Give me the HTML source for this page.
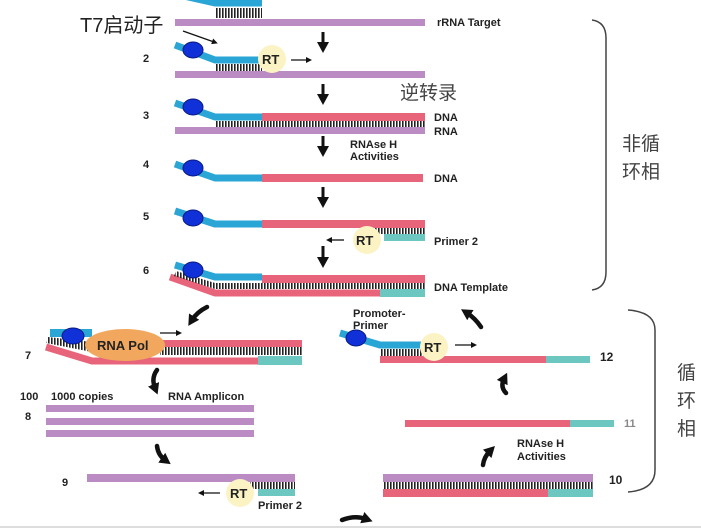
<!DOCTYPE html>
<html><head><meta charset="utf-8"><style>
html,body{margin:0;padding:0;background:#fff;}
svg{display:block;}
text{font-family:"Liberation Sans",Arial,sans-serif;font-weight:bold;fill:#222;}
.cn{font-family:"Liberation Sans","Noto Sans CJK SC",sans-serif;font-weight:normal;fill:#444;}
</style></head><body>
<svg width="701" height="529" viewBox="0 0 701 529" xmlns="http://www.w3.org/2000/svg">
<defs>
<pattern id="tk" width="3" height="10" patternUnits="userSpaceOnUse"><rect x="0" y="0" width="1.6" height="10" fill="#222"/></pattern>
<marker id="ah" markerUnits="userSpaceOnUse" markerWidth="12" markerHeight="12" refX="4" refY="6" orient="auto"><path d="M0,0 L11,6 L0,12 z" fill="#111"/></marker>
<marker id="bh" markerUnits="userSpaceOnUse" markerWidth="6" markerHeight="6" refX="2" refY="3" orient="auto"><path d="M0,0 L6,3 L0,6 z" fill="#111"/></marker>
</defs>

<!-- Row 1 -->
<path d="M175,-6 L215,3 L262,3" fill="none" stroke="#2aa6d6" stroke-width="7" stroke-linejoin="round"/>
<rect x="215" y="8" width="47" height="10" fill="url(#tk)"/>
<rect x="175" y="19" width="250" height="7" fill="#bb8cc4"/>
<text x="437" y="26" font-size="11">rRNA Target</text>
<text x="80" y="32" font-size="20" class="cn" style="fill:#222">T7启动子</text>
<line x1="183" y1="31" x2="214" y2="42" stroke="#111" stroke-width="1.3" marker-end="url(#bh)"/>

<!-- Row 2 -->
<text x="143" y="62" font-size="11">2</text>
<path d="M175,45 L215,60 L262,60" fill="none" stroke="#2aa6d6" stroke-width="7" stroke-linejoin="round"/>
<ellipse cx="193" cy="50" rx="10" ry="8" fill="#1030d8" stroke="#0a1a80"/>
<rect x="215" y="64" width="47" height="7" fill="url(#tk)"/>
<rect x="175" y="71" width="250" height="7" fill="#bb8cc4"/>
<circle cx="272" cy="59" r="14" fill="#fbf3c4"/>
<text x="262" y="64" font-size="13">RT</text>
<line x1="291" y1="60" x2="308" y2="60" stroke="#111" stroke-width="1.3" marker-end="url(#bh)"/>

<!-- down arrows -->
<g stroke="#111" stroke-width="3" marker-end="url(#ah)">
<line x1="323" y1="32" x2="323" y2="46"/>
<line x1="323" y1="84" x2="323" y2="98"/>
<line x1="323" y1="136" x2="323" y2="150"/>
<line x1="323" y1="187" x2="323" y2="201"/>
<line x1="323" y1="246" x2="323" y2="261"/>
</g>

<!-- Row 3 -->
<text x="143" y="119" font-size="11">3</text>
<path d="M175,103 L215,117 L262,117" fill="none" stroke="#2aa6d6" stroke-width="7" stroke-linejoin="round"/>
<ellipse cx="193" cy="107" rx="10" ry="8" fill="#1030d8" stroke="#0a1a80"/>
<rect x="262" y="113" width="163" height="8" fill="#e8647a"/>
<rect x="215" y="121" width="210" height="6" fill="url(#tk)"/>
<rect x="175" y="127" width="250" height="7" fill="#bb8cc4"/>
<text x="434" y="121" font-size="11">DNA</text>
<text x="434" y="135" font-size="11">RNA</text>
<text x="400" y="99" font-size="19" class="cn">逆转录</text>
<text x="350" y="148" font-size="11">RNAse H</text>
<text x="350" y="160" font-size="11">Activities</text>

<!-- Row 4 -->
<text x="143" y="168" font-size="11">4</text>
<path d="M175,164 L215,178 L262,178" fill="none" stroke="#2aa6d6" stroke-width="7" stroke-linejoin="round"/>
<ellipse cx="193" cy="168" rx="10" ry="8" fill="#1030d8" stroke="#0a1a80"/>
<rect x="262" y="174" width="161" height="8" fill="#e8647a"/>
<text x="434" y="182" font-size="11">DNA</text>

<!-- Row 5 -->
<text x="143" y="220" font-size="11">5</text>
<path d="M175,211 L215,224 L262,224" fill="none" stroke="#2aa6d6" stroke-width="7" stroke-linejoin="round"/>
<ellipse cx="193" cy="218" rx="10" ry="8" fill="#1030d8" stroke="#0a1a80"/>
<rect x="262" y="220" width="163" height="8" fill="#e8647a"/>
<rect x="375" y="228" width="50" height="6" fill="url(#tk)"/>
<rect x="384" y="234" width="41" height="7" fill="#6cc7c0"/>
<circle cx="367" cy="240" r="14" fill="#fbf3c4"/>
<text x="356" y="245" font-size="13">RT</text>
<line x1="344" y1="240" x2="330" y2="240" stroke="#111" stroke-width="1.3" marker-end="url(#bh)"/>
<text x="434" y="245" font-size="11">Primer 2</text>

<!-- Row 6 -->
<text x="143" y="274" font-size="11">6</text>
<path d="M170,277 L215,293 L425,293" fill="none" stroke="#e8647a" stroke-width="7" stroke-linejoin="round"/>
<rect x="380" y="289" width="45" height="8" fill="#6cc7c0"/>
<path d="M175,265 L215,277 L262,277" fill="none" stroke="#2aa6d6" stroke-width="7" stroke-linejoin="round"/>
<path d="M176,271 L215,283 L215,289 L174,276z" fill="url(#tk)"/>
<ellipse cx="193" cy="270" rx="10" ry="8" fill="#1030d8" stroke="#0a1a80"/>
<rect x="262" y="275" width="163" height="8" fill="#e8647a"/>
<rect x="215" y="283" width="210" height="6" fill="url(#tk)"/>
<text x="434" y="291" font-size="11">DNA Template</text>

<!-- brace 1 -->
<path d="M592,20 Q606,22 606,38 L606,272 Q606,288 592,290" fill="none" stroke="#444" stroke-width="1.5"/>
<text x="622" y="150" font-size="19" class="cn">非循</text>
<text x="622" y="178" font-size="19" class="cn">环相</text>

<!-- brace 2 -->
<path d="M628,310 Q655,312 655,330 L655,470 Q655,490 628,492" fill="none" stroke="#444" stroke-width="1.5"/>
<text x="677" y="379" font-size="19" class="cn">循</text>
<text x="677" y="407" font-size="19" class="cn">环</text>
<text x="677" y="435" font-size="19" class="cn">相</text>

<!-- Row 7 -->
<text x="25" y="359" font-size="11">7</text>
<path d="M46,347 L92,361 L300,361" fill="none" stroke="#e8647a" stroke-width="7" stroke-linejoin="round"/>
<rect x="258" y="356" width="44" height="9" fill="#6cc7c0"/>
<rect x="50" y="329" width="42" height="8" fill="#2aa6d6"/>
<path d="M48,337 L92,342 L92,352 L46,343z" fill="url(#tk)"/>
<ellipse cx="73" cy="336" rx="11" ry="8" fill="#1030d8" stroke="#0a1a80"/>
<rect x="90" y="340" width="212" height="7" fill="#e8647a"/>
<rect x="160" y="347" width="142" height="8" fill="url(#tk)"/>
<ellipse cx="125" cy="345" rx="40" ry="16" fill="#f1a85e"/>
<text x="97" y="350" font-size="13">RNA Pol</text>
<line x1="160" y1="333" x2="178" y2="333" stroke="#111" stroke-width="1.3" marker-end="url(#bh)"/>

<!-- Row 8 -->
<text x="20" y="400" font-size="11">100</text>
<text x="51" y="400" font-size="11">1000 copies</text>
<text x="168" y="400" font-size="11">RNA Amplicon</text>
<text x="25" y="420" font-size="11">8</text>
<rect x="46" y="405" width="208" height="7" fill="#bb8cc4"/>
<rect x="46" y="418" width="208" height="7" fill="#bb8cc4"/>
<rect x="46" y="430" width="208" height="7" fill="#bb8cc4"/>

<!-- Row 9 -->
<text x="62" y="486" font-size="11">9</text>
<rect x="87" y="474" width="208" height="8" fill="#bb8cc4"/>
<rect x="250" y="482" width="45" height="7" fill="url(#tk)"/>
<rect x="258" y="489" width="37" height="7" fill="#6cc7c0"/>
<circle cx="240" cy="493" r="14" fill="#fbf3c4"/>
<text x="230" y="498" font-size="13">RT</text>
<line x1="220" y1="493" x2="202" y2="493" stroke="#111" stroke-width="1.3" marker-end="url(#bh)"/>
<text x="258" y="509" font-size="11">Primer 2</text>

<!-- Row 12 -->
<text x="353" y="317" font-size="11">Promoter-</text>
<text x="353" y="329" font-size="11">Primer</text>
<path d="M340,333 L380,345 L425,345" fill="none" stroke="#2aa6d6" stroke-width="7" stroke-linejoin="round"/>
<ellipse cx="356" cy="338" rx="10" ry="8" fill="#1030d8" stroke="#0a1a80"/>
<rect x="380" y="349" width="45" height="7" fill="url(#tk)"/>
<rect x="380" y="356" width="166" height="7" fill="#e8647a"/>
<rect x="546" y="356" width="44" height="7" fill="#6cc7c0"/>
<circle cx="434" cy="347" r="14" fill="#fbf3c4"/>
<text x="424" y="352" font-size="13">RT</text>
<line x1="455" y1="345" x2="473" y2="345" stroke="#111" stroke-width="1.3" marker-end="url(#bh)"/>
<text x="600" y="361" font-size="12">12</text>

<!-- Row 11 -->
<rect x="405" y="420" width="165" height="7" fill="#e8647a"/>
<rect x="570" y="420" width="44" height="7" fill="#6cc7c0"/>
<text x="624" y="427" font-size="11" style="fill:#888">11</text>
<text x="517" y="447" font-size="11">RNAse H</text>
<text x="517" y="460" font-size="11">Activities</text>

<!-- Row 10 -->
<rect x="383" y="474" width="210" height="8" fill="#bb8cc4"/>
<rect x="383" y="482" width="210" height="7" fill="url(#tk)"/>
<rect x="383" y="489" width="165" height="8" fill="#e8647a"/>
<rect x="548" y="489" width="45" height="8" fill="#6cc7c0"/>
<text x="609" y="484" font-size="12">10</text>

<!-- curved arrows -->
<g fill="none" stroke="#111" stroke-width="4.5" stroke-linecap="round" marker-end="url(#ah)">
<path d="M207,307 Q197,312 192,320"/>
<path d="M157,370 Q151,378 155,388"/>
<path d="M157,446 Q158,455 165,460"/>
<path d="M342,520 Q355,515 366,519"/>
<path d="M506,393 Q500,387 504,379"/>
<path d="M483,465 Q484,457 490,451"/>
<path d="M481,327 Q475,318 467,313"/>
</g>
<line x1="0" y1="527" x2="701" y2="527" stroke="#ddd" stroke-width="2"/>
</svg>
</body></html>
